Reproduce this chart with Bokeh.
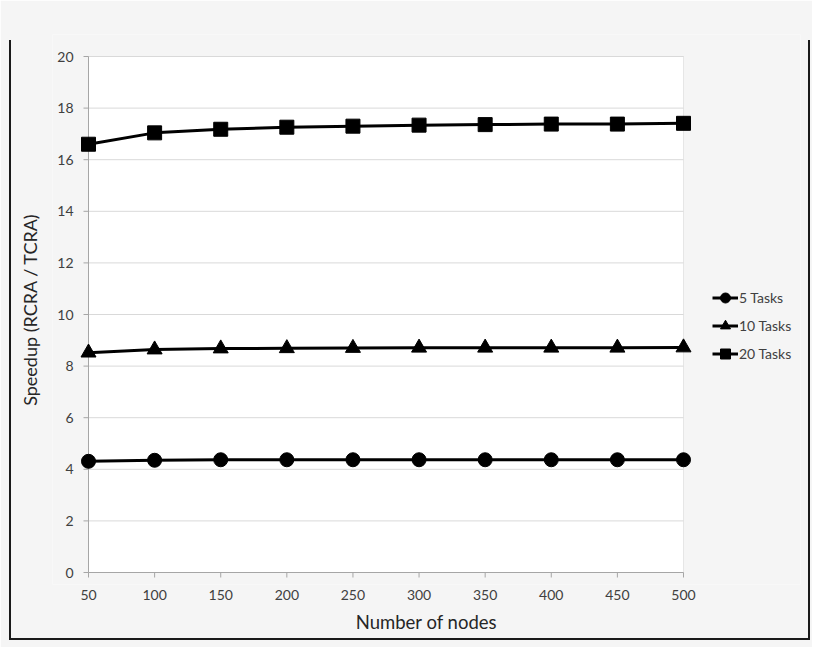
import math
from bokeh.plotting import figure
from bokeh.models import (Range1d, FixedTicker, BoxAnnotation, Legend, LegendItem,
                          InlineStyleSheet)
from bokeh.core.properties import value
from bokeh.embed import file_html
from bokeh.resources import INLINE

# ---- data ----
nodes = [50, 100, 150, 200, 250, 300, 350, 400, 450, 500]
tasks5 = [4.31, 4.35, 4.37, 4.37, 4.37, 4.37, 4.37, 4.37, 4.37, 4.37]
tasks10 = [8.52, 8.64, 8.68, 8.69, 8.70, 8.71, 8.71, 8.71, 8.71, 8.72]
tasks20 = [16.60, 17.04, 17.18, 17.26, 17.30, 17.34, 17.36, 17.38, 17.38, 17.41]
series_names = ["5 Tasks", "10 Tasks", "20 Tasks"]
y_ticks = [0, 2, 4, 6, 8, 10, 12, 14, 16, 18, 20]
y_tick_labels = [str(t) for t in y_ticks]
x_label = "Number of nodes"
y_label = "Speedup (RCRA / TCRA)"

# ---- layout (pixels) ----
W, H = 812, 647
FRAME_L, FRAME_R, FRAME_T, FRAME_B = 52, 800, 34, 584
PLOT_L_PX, PLOT_R_PX, PLOT_T_PX, PLOT_B_PX = 88, 683, 56, 572   # x=50, x=500, y=20, y=0
px_x = (PLOT_R_PX - PLOT_L_PX) / (max(nodes) - min(nodes))
px_y = (PLOT_B_PX - PLOT_T_PX) / (max(y_ticks) - min(y_ticks))
x_lo = min(nodes) - (PLOT_L_PX - FRAME_L) / px_x
x_hi = max(nodes) + (FRAME_R - PLOT_R_PX) / px_x
y_hi = max(y_ticks) + (PLOT_T_PX - FRAME_T) / px_y
y_lo = min(y_ticks) - (FRAME_B - PLOT_B_PX) / px_y

FONT = "Lato"
BG = "#f5f5f5"
TICK_COLOR = "#404040"
AXIS_GRAY = "#a6a6a6"

css = InlineStyleSheet(css="""
:host { position: relative; }
:host::after {
  content: ''; position: absolute; left: 9px; top: 40px; width: 801px; height: 600px;
  border-left: 2px solid #1a1a1a; border-right: 2px solid #1a1a1a; border-bottom: 2px solid #1a1a1a;
  pointer-events: none; box-sizing: border-box;
}
""")

p = figure(
    frame_width=FRAME_R - FRAME_L, frame_height=FRAME_B - FRAME_T,
    min_border_left=FRAME_L, min_border_right=W - FRAME_R,
    min_border_top=FRAME_T, min_border_bottom=H - FRAME_B,
    x_range=Range1d(x_lo, x_hi), y_range=Range1d(y_lo, y_hi),
    output_backend="svg", toolbar_location=None,
    background_fill_color=BG, border_fill_color=BG,
    stylesheets=[css],
)
p.outline_line_color = None
p.xgrid.visible = False
p.ygrid.visible = False

# white plot area
p.add_layout(BoxAnnotation(left=min(nodes), right=max(nodes), bottom=min(y_ticks), top=max(y_ticks),
                           fill_color="white", fill_alpha=1,
                           line_color="#b8b8b8", line_width=1, level="underlay"))

# horizontal gridlines
p.segment(x0=min(nodes), x1=max(nodes), y0=y_ticks[1:], y1=y_ticks[1:],
          line_color="#d9d9d9", line_width=1)

# axis lines (left and bottom of plot area)
p.segment(x0=[min(nodes), min(nodes)], y0=[min(y_ticks), min(y_ticks)],
          x1=[min(nodes), max(nodes)], y1=[max(y_ticks), min(y_ticks)],
          line_color=AXIS_GRAY, line_width=1)

# y axis: tick marks and labels at x = 50
p.ray(x=min(nodes), y=y_ticks, length=5, length_units="screen", angle=math.pi,
      line_color=AXIS_GRAY, line_width=1)
p.text(x=min(nodes), y=y_ticks, text=y_tick_labels, x_offset=-15,
       text_align="right", text_baseline="middle",
       text_font=value(FONT), text_font_size="14px", text_color=TICK_COLOR)

# x axis tick marks at y = 0
p.ray(x=nodes, y=min(y_ticks), length=5, length_units="screen", angle=-math.pi / 2,
      line_color=AXIS_GRAY, line_width=1)

ya = p.yaxis[0]
ya.ticker = FixedTicker(ticks=[])
ya.axis_line_color = None
ya.major_tick_line_color = None
ya.minor_tick_line_color = None
ya.axis_label = y_label
ya.axis_label_text_font = FONT
ya.axis_label_text_font_size = "18px"
ya.axis_label_text_font_style = "normal"
ya.axis_label_text_color = "#262626"
ya.axis_label_standoff = 12

xa = p.xaxis[0]
xa.ticker = FixedTicker(ticks=nodes)
xa.axis_line_color = None
xa.major_tick_line_color = None
xa.major_tick_out = 0
xa.major_tick_in = 0
xa.minor_tick_line_color = None
xa.major_label_text_font = FONT
xa.major_label_text_font_size = "14px"
xa.major_label_text_color = TICK_COLOR
xa.major_label_standoff = 5
xa.axis_label = x_label
xa.axis_label_text_font = FONT
xa.axis_label_text_font_size = "18.5px"
xa.axis_label_text_font_style = "normal"
xa.axis_label_text_color = "#262626"
xa.axis_label_standoff = 8

items = []
markers = ["circle", "triangle", "square"]
sizes = [14, 15, 14]
for name, ys, mk, sz in zip(series_names, [tasks5, tasks10, tasks20], markers, sizes):
    lr = p.line(nodes, ys, line_color="black", line_width=3)
    sr = p.scatter(nodes, ys, marker=mk, size=sz, fill_color="black", line_color="black")
    items.append(LegendItem(label=name, renderers=[lr, sr]))

legend = Legend(items=items, location=(712 - FRAME_L, FRAME_B - 366), padding=0, margin=0,
                glyph_width=26, glyph_height=25, label_height=25, spacing=3,
                label_standoff=1, background_fill_alpha=0, border_line_alpha=0,
                label_text_font=FONT, label_text_font_size="14px",
                label_text_color=TICK_COLOR)
p.add_layout(legend, "center")

open("out.html", "w").write(file_html(p, INLINE))
